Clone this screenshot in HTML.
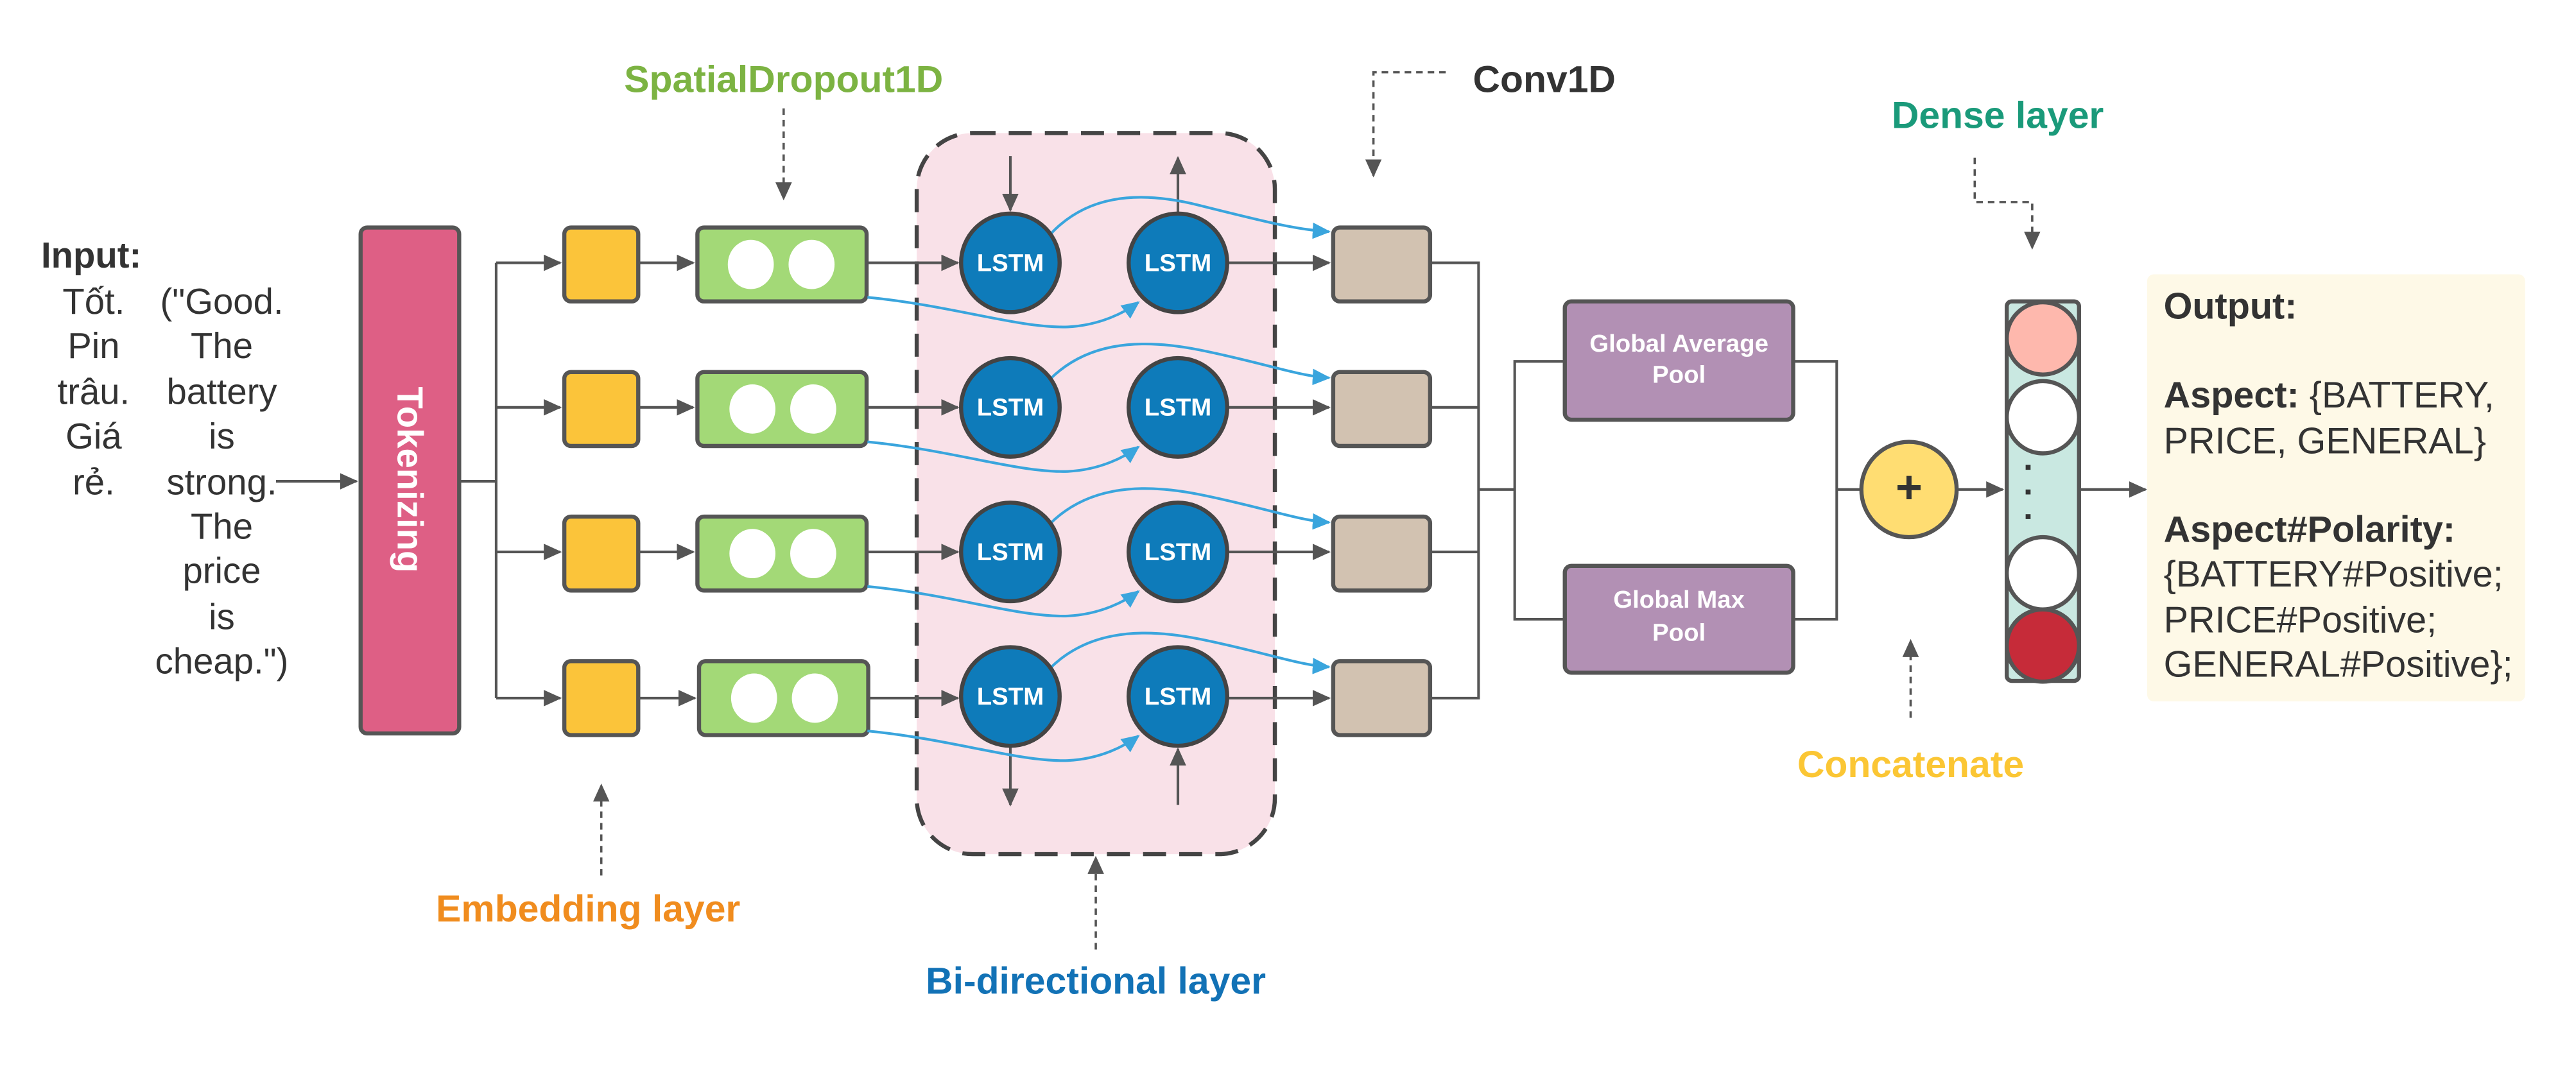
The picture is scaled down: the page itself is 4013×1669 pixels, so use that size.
<!DOCTYPE html>
<html><head><meta charset="utf-8"><style>html,body{margin:0;padding:0;background:#fff}svg{display:block}</style></head>
<body>
<svg width="4013" height="1669" viewBox="0 0 1568 652" preserveAspectRatio="none" xmlns="http://www.w3.org/2000/svg" font-family="Liberation Sans, Noto Sans CJK SC, sans-serif">
<defs>
<marker id="a" markerWidth="11" markerHeight="10" refX="10" refY="5" orient="auto" markerUnits="userSpaceOnUse"><path d="M0,0 L11,5 L0,10z" fill="#555"/></marker>
<marker id="ab" markerWidth="11" markerHeight="10" refX="10" refY="5" orient="auto" markerUnits="userSpaceOnUse"><path d="M0,0 L11,5 L0,10z" fill="#3aa5dd"/></marker>
</defs>
<rect width="1568" height="652" fill="#fff"/>
<g fill="#333" font-size="22">
<text x="25" y="163" font-weight="bold">Input:</text>
<g text-anchor="middle">
<text x="57" y="191">Tốt.</text><text x="57" y="218">Pin</text><text x="57" y="246">trâu.</text><text x="57" y="273">Giá</text><text x="57" y="301">rẻ.</text>
<text x="135" y="191">("Good.</text><text x="135" y="218">The</text><text x="135" y="246">battery</text><text x="135" y="273">is</text><text x="135" y="301">strong.</text><text x="135" y="328">The</text><text x="135" y="355">price</text><text x="135" y="383">is</text><text x="135" y="410">cheap.")</text>
</g></g>
<line x1="168" y1="293" x2="217" y2="293" stroke="#555" stroke-width="1.6" marker-end="url(#a)"/>
<rect x="219.5" y="138.5" width="60" height="308" rx="4" fill="#de5f85" stroke="#555" stroke-width="2.5"/>
<text transform="translate(242,292) rotate(90)" text-anchor="middle" fill="#fff" font-size="22" font-weight="bold">Tokenizing</text>
<path d="M280,293 H302 M302,160 V425" stroke="#555" stroke-width="1.6" fill="none"/>
<rect x="558" y="81" width="218" height="439" rx="34" fill="#f9e1e8" stroke="#444" stroke-width="2.5" stroke-dasharray="14,8"/>
<g stroke="#555" stroke-width="1.6" fill="none">
<line x1="302" y1="160" x2="341" y2="160" marker-end="url(#a)"/><line x1="302" y1="248" x2="341" y2="248" marker-end="url(#a)"/><line x1="302" y1="336" x2="341" y2="336" marker-end="url(#a)"/><line x1="302" y1="425" x2="341" y2="425" marker-end="url(#a)"/>
<line x1="388" y1="160" x2="422" y2="160" marker-end="url(#a)"/><line x1="388" y1="248" x2="422" y2="248" marker-end="url(#a)"/><line x1="388" y1="336" x2="422" y2="336" marker-end="url(#a)"/><line x1="388" y1="425" x2="423" y2="425" marker-end="url(#a)"/>
<line x1="528" y1="160" x2="583" y2="160" marker-end="url(#a)"/><line x1="528" y1="248" x2="583" y2="248" marker-end="url(#a)"/><line x1="528" y1="336" x2="583" y2="336" marker-end="url(#a)"/><line x1="528" y1="425" x2="583" y2="425" marker-end="url(#a)"/>
<line x1="747" y1="160" x2="809" y2="160" marker-end="url(#a)"/><line x1="747" y1="248" x2="809" y2="248" marker-end="url(#a)"/><line x1="747" y1="336" x2="809" y2="336" marker-end="url(#a)"/><line x1="747" y1="425" x2="809" y2="425" marker-end="url(#a)"/>
<line x1="615" y1="95" x2="615" y2="128" marker-end="url(#a)"/><line x1="717" y1="130" x2="717" y2="96" marker-end="url(#a)"/>
<line x1="615" y1="455" x2="615" y2="490" marker-end="url(#a)"/><line x1="717" y1="490" x2="717" y2="456" marker-end="url(#a)"/>
<path d="M871,160 H900 V425 H871 M871,248 H900 M871,336 H900 M900,298 H922 M952,220 H922 V377 H952"/>
<path d="M1092,220 H1118 V377 H1092 M1118,298 H1133"/>
<line x1="1192" y1="298" x2="1219" y2="298" marker-end="url(#a)"/>
<line x1="1266" y1="298" x2="1306" y2="298" marker-end="url(#a)"/>
</g>
<g stroke="#555" stroke-width="2.5">
<rect x="343.5" y="138.5" width="45" height="45" rx="4" fill="#fbc43a"/><rect x="343.5" y="226.5" width="45" height="45" rx="4" fill="#fbc43a"/><rect x="343.5" y="314.5" width="45" height="45" rx="4" fill="#fbc43a"/><rect x="343.5" y="402.5" width="45" height="45" rx="4" fill="#fbc43a"/>
<rect x="424.5" y="138.5" width="103" height="45" rx="4" fill="#a3d977"/><rect x="424.5" y="226.5" width="103" height="45" rx="4" fill="#a3d977"/><rect x="424.5" y="314.5" width="103" height="45" rx="4" fill="#a3d977"/><rect x="425.5" y="402.5" width="103" height="45" rx="4" fill="#a3d977"/>
<rect x="811.5" y="138.5" width="59" height="45" rx="4" fill="#d2c2b1"/><rect x="811.5" y="226.5" width="59" height="45" rx="4" fill="#d2c2b1"/><rect x="811.5" y="314.5" width="59" height="45" rx="4" fill="#d2c2b1"/><rect x="811.5" y="402.5" width="59" height="45" rx="4" fill="#d2c2b1"/>
</g>
<g fill="#fff">
<ellipse cx="457" cy="161" rx="14" ry="15"/><ellipse cx="494" cy="161" rx="14" ry="15"/>
<ellipse cx="458" cy="249" rx="14" ry="15"/><ellipse cx="495" cy="249" rx="14" ry="15"/>
<ellipse cx="458" cy="337" rx="14" ry="15"/><ellipse cx="495" cy="337" rx="14" ry="15"/>
<ellipse cx="459" cy="425" rx="14" ry="15"/><ellipse cx="496" cy="425" rx="14" ry="15"/>
</g>
<g stroke="#3aa5dd" stroke-width="1.6" fill="none">
<path d="M639,143 C660,120 690,115 730,125 S790,140 809,141" marker-end="url(#ab)"/>
<path d="M528,181 C580,186 620,200 650,199 C670,198 685,190 693,184" marker-end="url(#ab)"/>
<path d="M639,231 C660,210 690,205 730,213 S790,229 809,230" marker-end="url(#ab)"/>
<path d="M528,269 C580,274 620,288 650,287 C670,286 685,278 693,272" marker-end="url(#ab)"/>
<path d="M639,319 C660,298 690,293 730,301 S790,317 809,318" marker-end="url(#ab)"/>
<path d="M528,357 C580,362 620,376 650,375 C670,374 685,366 693,360" marker-end="url(#ab)"/>
<path d="M639,407 C660,386 690,381 730,389 S790,405 809,406" marker-end="url(#ab)"/>
<path d="M528,445 C580,450 620,464 650,463 C670,462 685,454 693,448" marker-end="url(#ab)"/>
</g>
<g fill="#0e7bba" stroke="#444" stroke-width="2.5">
<circle cx="615" cy="160" r="30"/><circle cx="717" cy="160" r="30"/>
<circle cx="615" cy="248" r="30"/><circle cx="717" cy="248" r="30"/>
<circle cx="615" cy="336" r="30"/><circle cx="717" cy="336" r="30"/>
<circle cx="615" cy="424" r="30"/><circle cx="717" cy="424" r="30"/>
</g>
<g fill="#fff" font-size="15" font-weight="bold" text-anchor="middle">
<text x="615" y="165">LSTM</text><text x="717" y="165">LSTM</text>
<text x="615" y="253">LSTM</text><text x="717" y="253">LSTM</text>
<text x="615" y="341">LSTM</text><text x="717" y="341">LSTM</text>
<text x="615" y="429">LSTM</text><text x="717" y="429">LSTM</text>
</g>
<g stroke="#555" stroke-width="2.5" fill="#b290b4">
<rect x="952.5" y="183.5" width="139" height="72" rx="4"/>
<rect x="952.5" y="344.5" width="139" height="65" rx="4"/>
</g>
<g fill="#fff" font-size="15" font-weight="bold" text-anchor="middle">
<text x="1022" y="214">Global Average</text><text x="1022" y="233">Pool</text>
<text x="1022" y="370">Global Max</text><text x="1022" y="390">Pool</text>
</g>
<circle cx="1162" cy="298" r="29" fill="#ffdd72" stroke="#555" stroke-width="2.5"/>
<text x="1162" y="306" text-anchor="middle" font-size="28" font-weight="bold" fill="#333">+</text>
<rect x="1221.5" y="183.5" width="44" height="231" rx="3" fill="#c9e8e1" stroke="#555" stroke-width="2.5"/>
<g stroke="#555" stroke-width="2.5">
<circle cx="1243.5" cy="206" r="22" fill="#feb8ad"/>
<circle cx="1243.5" cy="254" r="22" fill="#fff"/>
<circle cx="1243.5" cy="349" r="22" fill="#fff"/>
<circle cx="1243.5" cy="393" r="22" fill="#c62b39"/>
</g>
<g fill="#333"><rect x="1233" y="283" width="3" height="3"/><rect x="1233" y="298" width="3" height="3"/><rect x="1233" y="313" width="3" height="3"/></g>
<rect x="1307" y="167" width="230" height="260" rx="4" fill="#fef9e7"/>
<g fill="#333" font-size="22.5">
<text x="1317" y="194" font-weight="bold">Output:</text>
<text x="1317" y="248"><tspan font-weight="bold">Aspect:</tspan> {BATTERY,</text>
<text x="1317" y="276">PRICE, GENERAL}</text>
<text x="1317" y="330" font-weight="bold">Aspect#Polarity:</text>
<text x="1317" y="357">{BATTERY#Positive;</text>
<text x="1317" y="385">PRICE#Positive;</text>
<text x="1317" y="412">GENERAL#Positive};</text>
</g>
<g font-size="23" font-weight="bold" text-anchor="middle">
<text x="477" y="56" fill="#7cb342">SpatialDropout1D</text>
<text x="940" y="56" fill="#333">Conv1D</text>
<text x="1216" y="78" fill="#1a9a7a">Dense layer</text>
<text x="1163" y="473" fill="#fbc634">Concatenate</text>
<text x="358" y="561" fill="#f08c1e">Embedding layer</text>
<text x="667" y="605" fill="#1272b6">Bi-directional layer</text>
</g>
<g stroke="#555" stroke-width="1.4" fill="none" stroke-dasharray="4,3">
<line x1="477" y1="66" x2="477" y2="121" marker-end="url(#a)"/>
<path d="M880,44 H836 V107" marker-end="url(#a)"/>
<path d="M1202,96 V123 H1237 V151" marker-end="url(#a)"/>
<line x1="1163" y1="437" x2="1163" y2="390" marker-end="url(#a)"/>
<line x1="366" y1="533" x2="366" y2="478" marker-end="url(#a)"/>
<line x1="667" y1="578" x2="667" y2="522" marker-end="url(#a)"/>
</g>
</svg>
</body></html>
